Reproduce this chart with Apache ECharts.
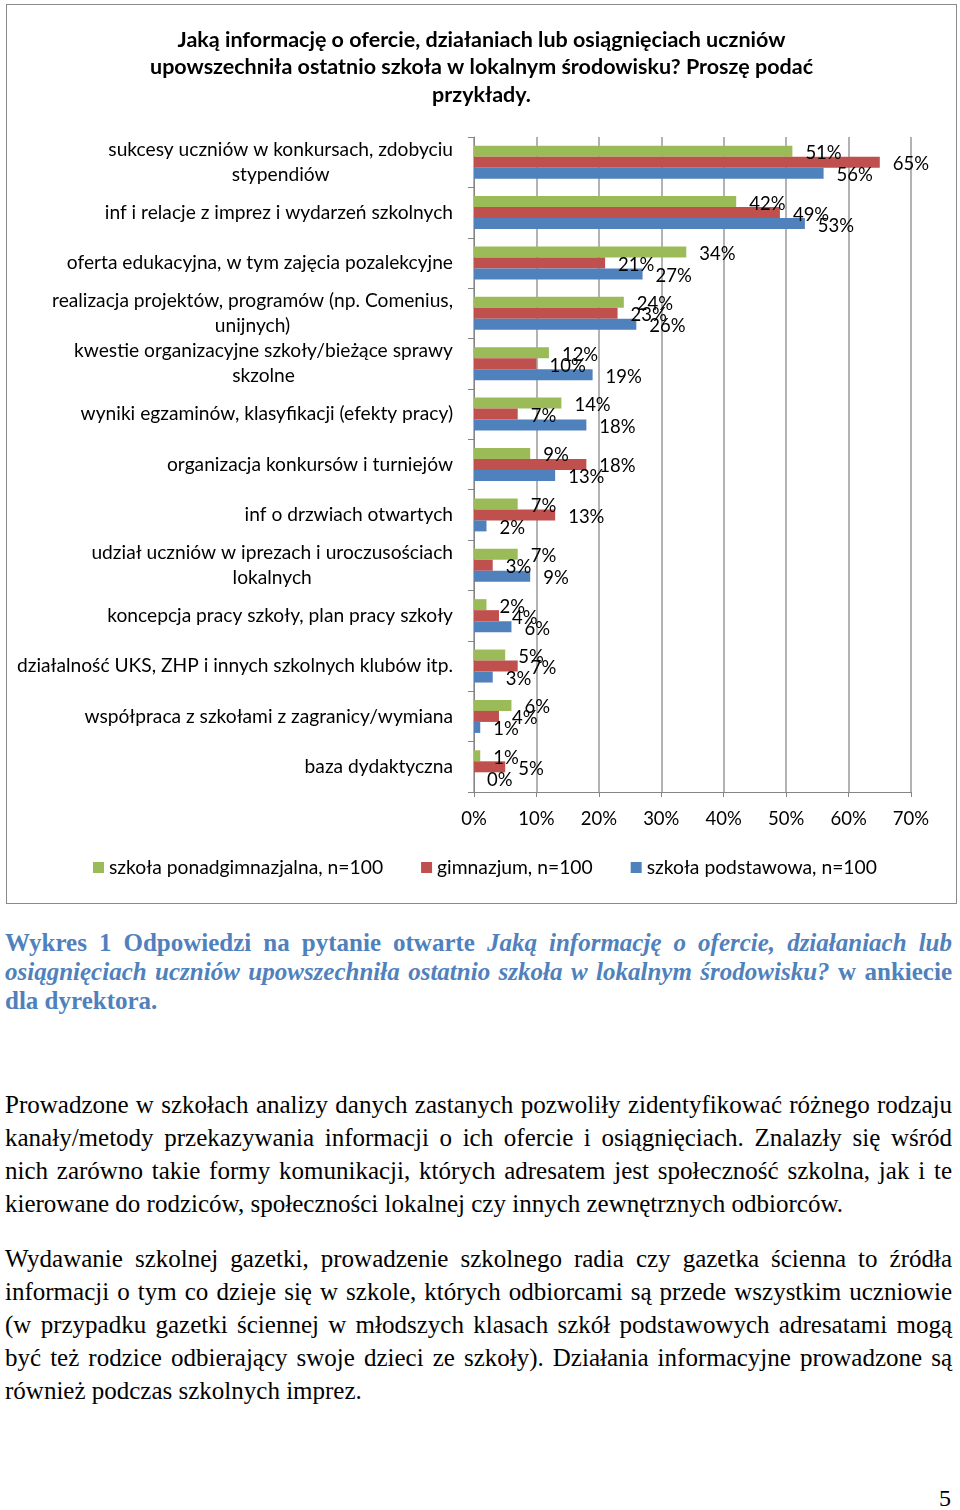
<!DOCTYPE html>
<html>
<head>
<meta charset="utf-8">
<script src="https://cdn.jsdelivr.net/npm/echarts@6/dist/echarts.min.js"></script>
<style>
  html, body { margin: 0; padding: 0; background: #fff; }
  body { width: 960px; height: 1510px; position: relative; overflow: hidden; }
  #box { position: absolute; left: 6px; top: 4px; width: 949px; height: 898px; border: 1px solid #8a8a8a; }
  #chart { width: 949px; height: 898px; }
  .txt { position: absolute; left: 5px; width: 947px; font-family: "Liberation Serif", "DejaVu Serif", serif; font-size: 25px; color: #000; }
  .txt div { text-align: justify; text-align-last: justify; }
  .txt div.last { text-align: left; text-align-last: left; }
  #caption { top: 928px; line-height: 29px; font-weight: bold; color: #4f81bd; }
  #p1 { top: 1088px; line-height: 33px; }
  #p2 { top: 1242px; line-height: 33px; }
  #pnum { position: absolute; right: 9px; top: 1485px; font-family: "Liberation Serif", serif; font-size: 24px; }
</style>
</head>
<body>
<div id="box"><div id="chart"></div></div>

<div id="caption" class="txt">
  <div>Wykres 1 Odpowiedzi na pytanie otwarte <i>Jaką informację o ofercie, działaniach lub</i></div>
  <div><i>osiągnięciach uczniów upowszechniła ostatnio szkoła w lokalnym środowisku?</i> w ankiecie</div>
  <div class="last">dla dyrektora.</div>
</div>

<div id="p1" class="txt">
  <div>Prowadzone w szkołach analizy danych zastanych pozwoliły zidentyfikować różnego rodzaju</div>
  <div>kanały/metody przekazywania informacji o ich ofercie i osiągnięciach. Znalazły się wśród</div>
  <div>nich zarówno takie formy komunikacji, których adresatem jest społeczność szkolna, jak i te</div>
  <div class="last">kierowane do rodziców, społeczności lokalnej czy innych zewnętrznych odbiorców.</div>
</div>

<div id="p2" class="txt">
  <div>Wydawanie szkolnej gazetki, prowadzenie szkolnego radia czy gazetka ścienna to źródła</div>
  <div>informacji o tym co dzieje się w szkole, których odbiorcami są przede wszystkim uczniowie</div>
  <div>(w przypadku gazetki ściennej w młodszych klasach szkół podstawowych adresatami mogą</div>
  <div>być też rodzice odbierający swoje dzieci ze szkoły). Działania informacyjne prowadzone są</div>
  <div class="last">również podczas szkolnych imprez.</div>
</div>

<div id="pnum">5</div>

<script>
const chartTitle = 'Jaką informację o ofercie, działaniach lub osiągnięciach uczniów\nupowszechniła ostatnio szkoła w lokalnym środowisku? Proszę podać\nprzykłady.';

const categories = [
  'sukcesy uczniów w konkursach, zdobyciu\nstypendiów',
  'inf i relacje z imprez i wydarzeń szkolnych',
  'oferta edukacyjna, w tym zajęcia pozalekcyjne',
  'realizacja projektów, programów (np. Comenius,\nunijnych)',
  'kwestie organizacyjne szkoły/bieżące sprawy\nskzolne',
  'wyniki egzaminów, klasyfikacji (efekty pracy)',
  'organizacja konkursów i turniejów',
  'inf o drzwiach otwartych',
  'udział uczniów w iprezach i uroczusościach\nlokalnych',
  'koncepcja pracy szkoły, plan pracy szkoły',
  'działalność UKS, ZHP i innych szkolnych klubów itp.',
  'współpraca z szkołami z zagranicy/wymiana',
  'baza dydaktyczna'
];

const seriesNames = ['szkoła ponadgimnazjalna, n=100', 'gimnazjum, n=100', 'szkoła podstawowa, n=100'];

const ponadgimnazjalna = [51, 42, 34, 24, 12, 14, 9, 7, 7, 2, 5, 6, 1];
const gimnazjum        = [65, 49, 21, 23, 10, 7, 18, 13, 3, 4, 7, 4, 5];
const podstawowa       = [56, 53, 27, 26, 19, 18, 13, 2, 9, 6, 3, 1, 0];

const xMin = 0, xMax = 70, xStep = 10;

const colors = ['#9bbb59', '#c0504d', '#4f81bd'];
const FONT = 'Lato';

function makeSeries(name, data, color) {
  return {
    name: name,
    type: 'bar',
    data: data,
    barWidth: 11,
    barGap: '0%',
    itemStyle: { color: color },
    label: {
      show: true,
      position: 'right',
      distance: 13,
      offset: [0, 2],
      formatter: '{c}%',
      color: '#000',
      fontFamily: FONT,
      fontSize: 18.5
    },
    emphasis: { disabled: true }
  };
}

const chart = echarts.init(document.getElementById('chart'), null, { renderer: 'canvas' });
chart.setOption({
  animation: false,
  backgroundColor: '#fff',
  title: {
    text: chartTitle,
    left: 'center',
    top: 16,
    textStyle: { fontFamily: FONT, fontSize: 21.5, fontWeight: 'bold', color: '#000', lineHeight: 27.5, align: 'center' }
  },
  legend: {
    data: seriesNames,
    left: 81,
    top: 848,
    icon: 'rect',
    itemWidth: 11,
    itemHeight: 11,
    itemGap: 38,
    textStyle: { fontFamily: FONT, fontSize: 19.3, color: '#000' }
  },
  grid: { left: 467, top: 132, width: 437, height: 655, containLabel: false },
  xAxis: {
    type: 'value',
    min: xMin,
    max: xMax,
    interval: xStep,
    axisLine: { show: true, lineStyle: { color: '#868686', width: 1 } },
    axisTick: { show: true, length: 5, lineStyle: { color: '#868686' } },
    splitLine: { show: true, lineStyle: { color: '#9a9a9a', width: 1.5 } },
    axisLabel: { formatter: '{value}%', margin: 18, color: '#000', fontFamily: FONT, fontSize: 18.5 }
  },
  yAxis: {
    type: 'category',
    inverse: true,
    data: categories,
    axisLine: { show: true, lineStyle: { color: '#868686', width: 1 } },
    axisTick: { show: true, length: 6, lineStyle: { color: '#868686' } },
    axisLabel: {
      margin: 21,
      color: '#000',
      fontFamily: FONT,
      fontSize: 19.2,
      lineHeight: 25,
      formatter: function (v) { return v.split('\n').map(function (l) { return '{c|' + l + '}'; }).join('\n'); },
      rich: { c: { align: 'center', fontFamily: FONT, fontSize: 19.2, lineHeight: 25, color: '#000' } }
    }
  },
  series: [
    makeSeries(seriesNames[0], ponadgimnazjalna, colors[0]),
    makeSeries(seriesNames[1], gimnazjum, colors[1]),
    makeSeries(seriesNames[2], podstawowa, colors[2])
  ]
});
</script>
</body>
</html>
